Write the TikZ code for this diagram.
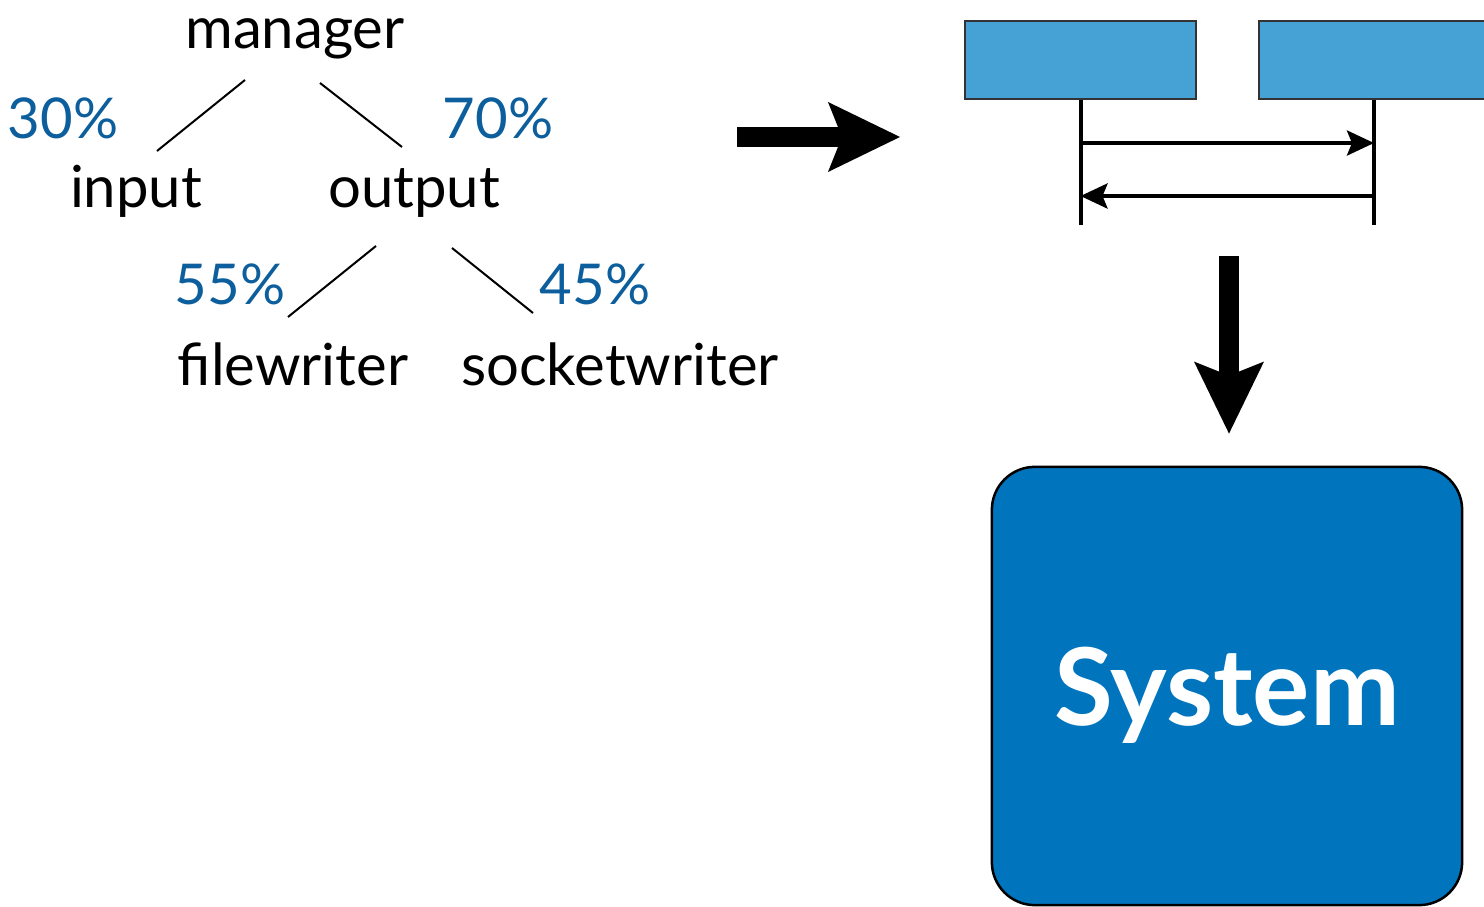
\documentclass[tikz,border=0pt]{standalone}
\usepackage{fontspec}
\setmainfont{Lato}
\usetikzlibrary{arrows.meta,positioning,calc}
\definecolor{pctblue}{RGB}{12,94,156}
\definecolor{objblue}{RGB}{70,162,213}
\definecolor{sysblue}{RGB}{0,117,190}

\begin{document}
\begin{tikzpicture}[x=0.01cm, y=-0.01cm,
  lbl/.style={font=\fontsize{16.5}{20}\selectfont, anchor=base, inner sep=0pt},
  pct/.style={lbl, font=\fontsize{16}{20}\selectfont, text=pctblue},
  edge/.style={line width=0.02cm},
  obj/.style={draw=black!80, fill=objblue, line width=0.02cm, minimum width=2.3cm, minimum height=0.78cm, inner sep=0pt},
  lifeline/.style={line width=0.04cm},
  msg/.style={line width=0.04cm, -{Stealth[length=0.27cm, width=0.25cm, inset=0.05cm]}},
  bigarrow/.style={line width=0.2cm, -{Stealth[length=0.72cm, width=0.7cm, inset=0.14cm, line width=0pt]}}]
  \clip (0,0) rectangle (1484,907);

  % Component tree
  \node[lbl] (manager) at (295,49) {manager};
  \node[lbl] (input) at (136,208) {input};
  \node[lbl] (output) at (414,208) {output};
  \node[lbl] (filewriter) at (293,386) {filewriter};
  \node[lbl] (socketwriter) at (620,386) {socketwriter};

  \draw[edge] ($(manager.base)+(-50,31)$) -- ($(input.base)+(21,-57)$);
  \draw[edge] ($(manager.base)+(25,34)$) -- ($(output.base)+(-12,-61)$);
  \draw[edge] ($(output.base)+(-38,38)$) -- ($(filewriter.base)+(-5,-69)$);
  \draw[edge] ($(output.base)+(38,40)$) -- ($(socketwriter.base)+(-87,-73)$);

  % Shares
  \node[pct] (p30) at (63,139) {30\%};
  \node[pct] (p70) at (498,139) {70\%};
  \node[pct] (p55) at (230,305) {55\%};
  \node[pct] (p45) at (595,305) {45\%};

  % Translation step
  \coordinate (toseq) at (737,137);
  \coordinate (seqin) at (900,137);
  \draw[bigarrow] (toseq) -- (seqin);

  % Sequence chart
  \node[obj] (objA) at (1080.5,60) {};
  \node[obj] (objB) at (1374,60) {};
  \coordinate (endA) at ($(objA.south)+(0,125)$);
  \coordinate (endB) at ($(objB.south)+(0,125)$);
  \draw[lifeline] (objA.south) -- (endA);
  \draw[lifeline] (objB.south) -- (endB);
  \draw[msg] ($(objA.south)+(0,43)$) -- ($(objB.south)+(0,43)$);
  \draw[msg] ($(objB.south)+(0,96)$) -- ($(objA.south)+(0,96)$);

  % System model
  \node[draw=black, fill=sysblue, line width=0.025cm, rounded corners=0.43cm,
        minimum width=4.7cm, minimum height=4.38cm, text=white, text depth=0pt,
        font=\fontsize{30.5}{34}\selectfont\bfseries] (system) at (1227,686) {System};
  \coordinate (tosys) at (1229,256);
  \draw[bigarrow, shorten >=0.32cm] (tosys) -- (tosys |- system.north);
\end{tikzpicture}
\end{document}
